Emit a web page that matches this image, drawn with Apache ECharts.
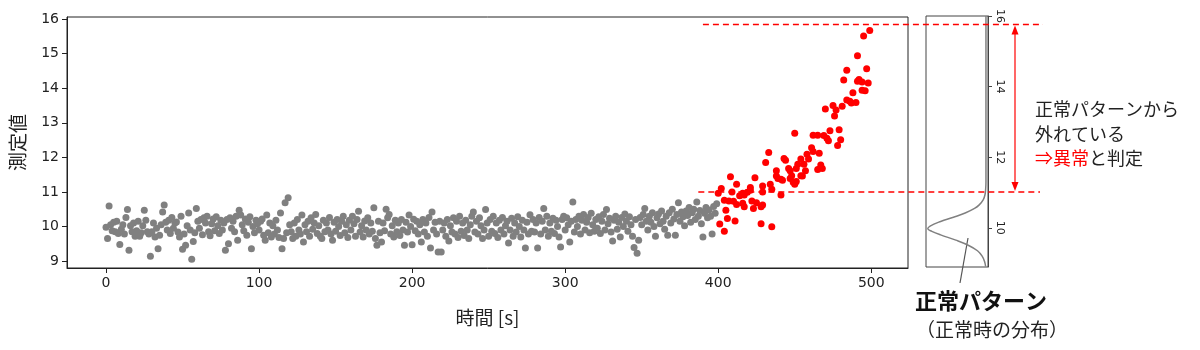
<!DOCTYPE html>
<html><head><meta charset="utf-8">
<script src="https://cdn.jsdelivr.net/npm/echarts@6/dist/echarts.min.js"></script>
<style>html,body{margin:0;padding:0;background:#fff}#c{width:1200px;height:350px}</style>
</head><body><div id="c"></div>
<script>
// normal period: one value per second, t = 0..399
const grayValues = [
9.98,9.65,10.59,10.05,9.88,10.12,9.85,10.15,9.80,9.48,9.92,10.05,9.78,10.26,10.49,9.31,10.02,9.85,10.1,9.72,
9.88,10.15,9.72,9.82,10.02,10.47,10.18,9.85,9.78,9.14,9.85,10.1,9.7,9.95,9.36,9.75,10.05,10.42,10.62,10.12,
9.9,10.18,9.8,10.26,9.95,10.1,10.13,9.84,9.7,10.3,9.34,9.78,9.46,10.02,10.39,9.9,9.05,9.57,9.82,10.52,
10.15,9.95,10.2,9.76,10.25,10.1,10.3,9.85,9.73,10.08,10.22,9.88,10.28,10.02,9.8,10.18,9.9,10.1,9.31,10.2,
9.5,10.25,9.95,10.15,9.85,10.3,9.6,10.47,10.33,10.05,9.88,10.22,9.75,10.12,10.28,9.36,10.0,9.82,10.18,10.08,
9.9,10.15,10.22,9.75,9.6,10.33,9.82,10.1,9.7,10.02,9.78,10.18,9.9,9.68,10.39,9.36,9.65,10.69,9.82,10.83,
10.05,9.85,9.65,10.1,9.72,10.2,9.9,9.78,10.33,9.55,10.05,9.85,10.15,9.72,10.25,9.92,10.1,10.35,9.8,10.02,
9.72,9.65,10.18,9.85,10.1,9.9,10.26,9.78,9.6,10.12,9.86,10.2,10.0,9.74,10.15,10.3,9.82,10.05,9.68,10.18,
9.9,10.3,10.08,9.72,10.2,10.44,9.84,10.02,9.7,10.16,9.9,10.25,9.78,10.1,9.86,10.54,9.65,9.46,10.15,9.82,
9.55,10.1,9.88,10.5,10.25,10.35,9.78,10.02,9.7,10.18,9.85,10.1,9.74,10.2,9.9,9.46,10.12,9.84,10.33,10.0,
9.47,10.21,9.88,10.15,9.78,10.05,9.55,10.2,9.84,10.1,9.72,10.26,9.38,10.42,9.9,10.12,9.78,9.26,10.15,9.26,
9.9,10.1,9.72,10.2,9.58,10.02,9.84,10.25,9.78,10.15,9.68,10.3,9.86,10.1,9.74,10.18,9.9,9.65,10.05,10.3,
10.42,9.84,10.15,9.78,10.25,10.02,9.65,9.9,10.49,10.1,9.72,10.2,9.86,10.3,9.8,10.1,9.68,10.18,9.9,10.26,
9.78,10.02,10.15,9.52,9.9,10.24,9.72,10.1,9.84,10.28,10.0,9.7,10.18,9.9,9.38,10.12,9.78,10.34,9.86,10.2,
9.84,10.1,9.38,10.26,9.78,10.15,10.52,9.9,10.3,9.72,10.1,9.86,10.24,9.8,10.18,10.0,9.7,9.41,10.2,10.3,
9.9,10.25,10.05,9.55,10.15,10.71,9.84,10.2,10.0,10.3,9.78,10.18,10.35,9.9,10.12,10.26,9.82,10.38,10.05,9.86,
10.2,9.95,10.28,9.8,10.15,10.35,9.9,10.49,10.08,10.24,9.84,9.58,10.18,10.3,9.92,10.12,9.7,10.26,10.0,10.36,
10.15,9.86,10.28,10.05,9.72,9.39,10.2,9.23,9.6,10.26,10.05,10.35,10.52,10.15,9.9,10.3,10.12,10.4,10.0,9.72,
10.25,10.36,10.08,10.45,10.15,9.92,10.3,9.75,10.4,10.1,10.5,10.22,9.75,10.35,10.69,10.15,10.42,10.28,10.02,10.45,
10.32,10.55,10.12,10.4,10.5,10.2,10.71,10.3,10.46,10.08,9.7,10.38,10.55,10.25,10.48,10.3,9.78,10.58,10.38,10.66
];
// anomaly period
const redTimes = [499,495,491,484,497,482,491,492,494,498,488,494,496,484,486,487,490,481,470,475,477,476,450,462,465,469,473,479,471,472,480,478,433,443,444,454,458,459,461,462,466,456,452,431,438,446,447,451,457,467,468,465,408,424,412,421,429,434,435,438,439,441,442,448,447,449,454,455,450,451,402,400,409,416,419,421,429,441,404,407,410,414,417,416,412,417,422,425,429,423,428,405,406,411,401,404,428,435];
const redValues = [15.67,15.51,14.94,14.52,14.56,14.24,14.20,14.25,14.18,14.15,13.87,13.94,13.93,13.66,13.62,13.57,13.59,13.48,13.40,13.50,13.37,13.20,12.70,12.64,12.64,12.63,12.77,12.80,12.55,12.48,12.51,12.34,12.14,11.97,11.92,11.95,12.09,11.95,12.28,12.17,12.12,11.80,11.80,11.85,11.61,11.68,11.61,11.68,11.61,11.78,11.68,11.65,11.44,11.41,11.22,11.13,11.17,11.22,11.08,11.46,11.39,11.37,11.34,11.47,11.39,11.28,11.47,11.46,11.22,11.30,11.10,10.96,11.00,10.96,10.99,11.05,11.00,10.91,10.76,10.74,10.73,10.89,10.91,10.67,10.64,10.57,10.74,10.69,10.62,10.52,10.57,10.47,10.23,10.16,10.07,9.86,10.08,9.99];
// normal pattern (distribution)
const curveValues  = [8.9, 9.05, 9.2, 9.35, 9.5, 9.65, 9.8, 9.9, 9.97, 10.05, 10.18, 10.3, 10.42, 10.55, 10.65, 10.8, 10.95, 11.1, 11.3, 16.0];
const curveDensity = [0.01,0.03,0.07,0.15,0.3, 0.52, 0.78,0.93,1.0, 0.96, 0.78, 0.56, 0.36, 0.2, 0.12, 0.05, 0.02, 0.01, 0.005,0.005];
const xTicks = [0,100,200,300,400,500];
const yTicks = [9,10,11,12,13,14,15,16];
const sideTicks = [10,12,14,16];
const thresholdLow = 11.0, thresholdHigh = 15.84;

const chart = echarts.init(document.getElementById('c'), null, {renderer:'canvas'});
const numFont = 'DejaVu Sans';
const jpFont = 'Noto Sans CJK JP';
chart.setOption({
  animation:false,
  backgroundColor:'#fff',
  grid:[
    {left:66, top:17, width:842, height:251, show:true, borderColor:'#222', borderWidth:1, backgroundColor:'transparent'},
    {left:926, top:16, width:62, height:251, show:true, borderColor:'#444', borderWidth:1, backgroundColor:'transparent'}
  ],
  xAxis:[
    {type:'value', gridIndex:0, min:-25.5, max:524,
     name:'時間 [s]', nameLocation:'middle', nameGap:40,
     nameTextStyle:{fontFamily:jpFont, fontSize:19, color:'#222'},
     axisLine:{show:true, onZero:false, lineStyle:{color:'#222'}},
     axisTick:{show:true, length:5, customValues:xTicks, lineStyle:{color:'#222'}},
     axisLabel:{customValues:xTicks, fontFamily:numFont, fontSize:14, color:'#222', margin:8},
     splitLine:{show:false}},
    {type:'value', gridIndex:1, min:-0.03, max:1.03, inverse:true, show:false, splitLine:{show:false}}
  ],
  yAxis:[
    {type:'value', gridIndex:0, min:8.8, max:16.06,
     name:'測定値', nameLocation:'middle', nameGap:40, nameRotate:90,
     nameTextStyle:{fontFamily:jpFont, fontSize:19, color:'#222'},
     axisLine:{show:true, onZero:false, lineStyle:{color:'#222'}},
     axisTick:{show:true, length:5, customValues:yTicks, lineStyle:{color:'#222'}},
     axisLabel:{customValues:yTicks, fontFamily:numFont, fontSize:14, color:'#222', margin:8},
     splitLine:{show:false}},
    {type:'value', gridIndex:1, position:'right', min:8.89, max:16.0,
     axisLine:{show:true, onZero:false, lineStyle:{color:'#444'}},
     axisTick:{show:true, length:4, customValues:sideTicks, lineStyle:{color:'#444'}},
     axisLabel:{customValues:sideTicks, rotate:-90, fontFamily:numFont, fontSize:11, color:'#222', margin:6},
     splitLine:{show:false}}
  ],
  series:[
    {type:'scatter', xAxisIndex:0, yAxisIndex:0, symbolSize:7,
     itemStyle:{color:'#808080', opacity:1},
     data:grayValues.map((v,i)=>[i,v])},
    {type:'scatter', xAxisIndex:0, yAxisIndex:0, symbolSize:7,
     itemStyle:{color:'#ff0000', opacity:1},
     data:redTimes.map((t,i)=>[t,redValues[i]])},
    {type:'line', xAxisIndex:1, yAxisIndex:1, smooth:0.4, showSymbol:false,
     lineStyle:{color:'#808080', width:1.5},
     data:curveDensity.map((d,i)=>[d,curveValues[i]])}
  ]
});

// annotations positioned through the axes
const pHigh = chart.convertToPixel({gridIndex:0}, [390, thresholdHigh]);
const pLow = chart.convertToPixel({gridIndex:0}, [387, thresholdLow]);
const sideRight = 988;
const arrowX = 1015;
const dash = {stroke:'#ff0000', lineWidth:1.5, lineDash:[6,4]};
const g = [];
g.push({type:'line', shape:{x1:pHigh[0], y1:pHigh[1], x2:sideRight+55, y2:pHigh[1]}, style:dash, z:10});
g.push({type:'line', shape:{x1:pLow[0], y1:pLow[1], x2:sideRight+52, y2:pLow[1]}, style:dash, z:10});
g.push({type:'line', shape:{x1:arrowX, y1:pHigh[1]+8, x2:arrowX, y2:pLow[1]-8}, style:{stroke:'#ff0000', lineWidth:1.2}, z:10});
g.push({type:'polygon', shape:{points:[[arrowX,pHigh[1]+1],[arrowX-3.5,pHigh[1]+10],[arrowX+3.5,pHigh[1]+10]]}, style:{fill:'#ff0000'}, z:10});
g.push({type:'polygon', shape:{points:[[arrowX,pLow[1]-1],[arrowX-3.5,pLow[1]-10],[arrowX+3.5,pLow[1]-10]]}, style:{fill:'#ff0000'}, z:10});
const tf = {fontFamily:jpFont, fontSize:18, fill:'#222', textVerticalAlign:'middle'};
g.push({type:'text', x:1035, y:109, style:Object.assign({text:'正常パターンから'}, tf)});
g.push({type:'text', x:1035, y:134, style:Object.assign({text:'外れている'}, tf)});
g.push({type:'text', x:1035, y:158, style:Object.assign({text:'{r|⇒異常}と判定', rich:{r:{fill:'#ff0000', fontFamily:jpFont, fontSize:18}}}, tf)});
g.push({type:'line', shape:{x1:960, y1:283, x2:968, y2:238}, style:{stroke:'#555', lineWidth:1.2}});
g.push({type:'text', x:915, y:301, style:{text:'正常パターン', fontFamily:jpFont, fontSize:22, fontWeight:'bold', fill:'#111', textVerticalAlign:'middle'}});
g.push({type:'text', x:916, y:330, style:{text:'（正常時の分布）', fontFamily:jpFont, fontSize:19, fill:'#222', textVerticalAlign:'middle'}});
chart.setOption({graphic:g});
</script>
</body></html>
